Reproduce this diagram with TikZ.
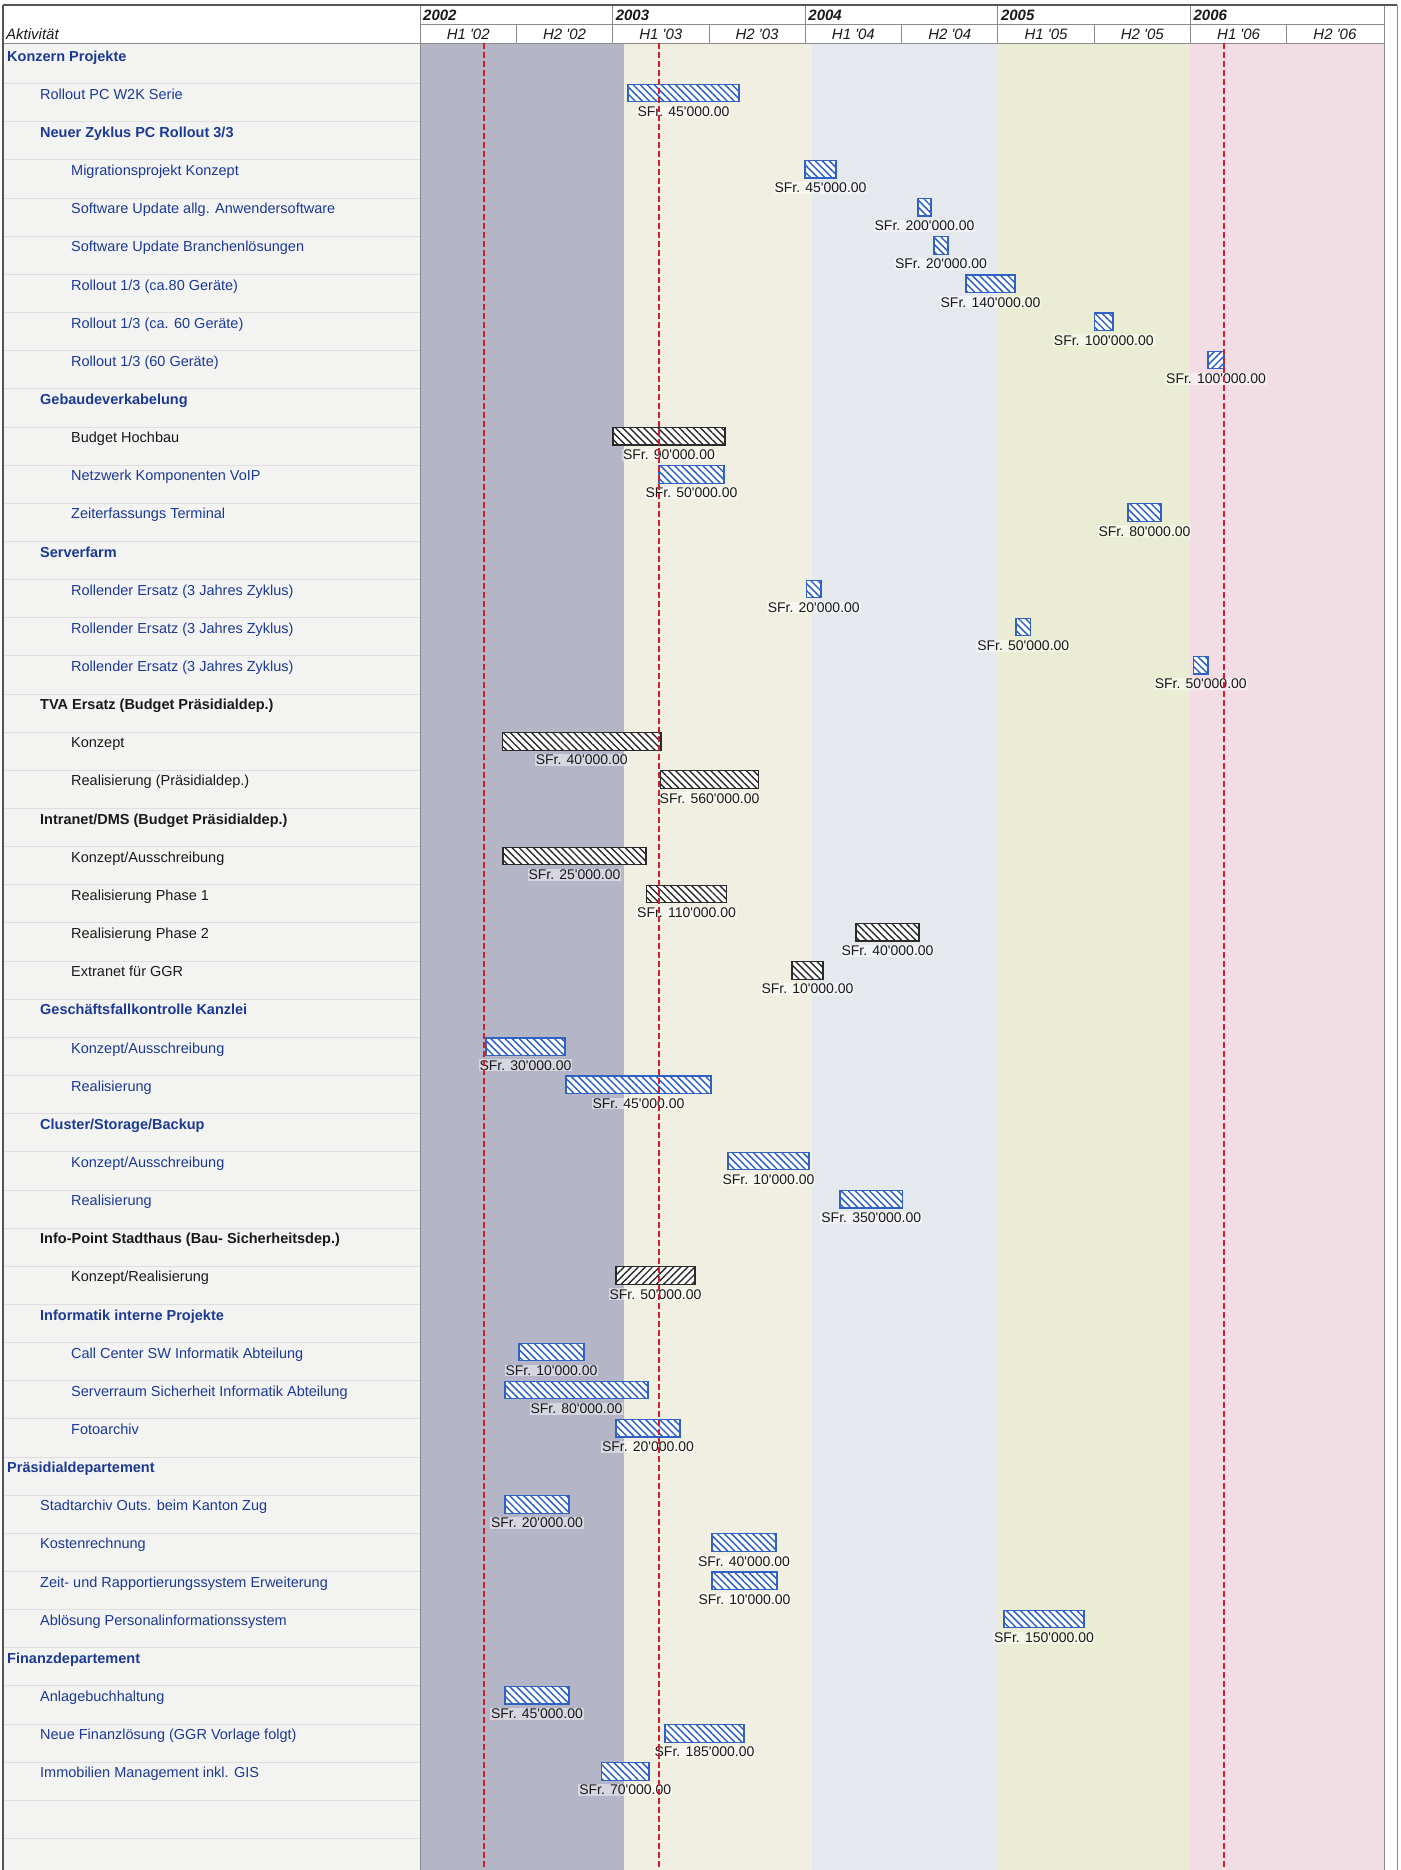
\documentclass[tikz,border=0pt]{standalone}
\usepackage{fontspec}
\setmainfont{Liberation Sans}[Ligatures=TeXOff]
\usetikzlibrary{patterns.meta}
\definecolor{leftbg}{HTML}{F3F3F1}
\definecolor{rowln}{HTML}{DEDEDE}
\definecolor{cA}{HTML}{B4B5C6}
\definecolor{cB}{HTML}{F1EFE2}
\definecolor{cC}{HTML}{E5E9EE}
\definecolor{cD}{HTML}{EAEDD3}
\definecolor{cE}{HTML}{F2DDE5}
\definecolor{txtblue}{HTML}{1C3A94}
\definecolor{txtblack}{HTML}{1A1A1A}
\definecolor{barblue}{HTML}{2F62C4}
\definecolor{barblack}{HTML}{2A2A2A}
\definecolor{redln}{HTML}{D0202E}
\definecolor{frm}{HTML}{555555}
\definecolor{hdl}{HTML}{8A8A8A}
\newcommand{\ganttrow}[4]{\node[#3, anchor=base west] (t#1) at (#2, {45.4+(#1-1)*38.15+15.7}) {#4};}
\newcommand{\ganttbar}[5]{%
  \node[#4, anchor=north west, minimum width={(#3-#2)*1pt}, minimum height=17.5pt] (b#1) at (#2, {45.4+(#1-1)*38.15+0.6}) {};
  \node[lab] (l#1) at ({(#2+#3)/2}, {45.4+(#1-1)*38.15+28}) {SFr. #5};}
\begin{document}
\begin{tikzpicture}[x=1pt,y=-1pt,
  itm/.style={font=\fontsize{14.5}{17}\selectfont, inner sep=0pt},
  gbl/.style={itm, font=\fontsize{14.5}{17}\selectfont\bfseries, text=txtblue},
  gbk/.style={itm, font=\fontsize{14.5}{17}\selectfont\bfseries, text=txtblack},
  nbl/.style={itm, text=txtblue},
  nbk/.style={itm, text=txtblack},
  hdr/.style={font=\fontsize{15}{18}\selectfont\itshape, inner sep=0pt, text=txtblack},
  yr/.style={font=\fontsize{15}{18}\selectfont\bfseries\itshape, inner sep=0pt, text=txtblack},
  lab/.style={font=\fontsize{14}{16}\selectfont, fill=white, fill opacity=0.45, text opacity=1, inner sep=1pt, text=txtblack},
  barbase/.style={rectangle, inner sep=0pt, outer sep=0pt, line width=1.2pt, preaction={fill=white}},
  barb/.style={barbase, draw=barblue, pattern={Lines[angle=-45,distance=5pt,line width=1.5pt]}, pattern color=barblue},
  barf/.style={barbase, draw=barblue, pattern={Lines[angle=45,distance=5pt,line width=1.5pt]}, pattern color=barblue},
  bark/.style={barbase, draw=barblack, pattern={Lines[angle=-45,distance=5pt,line width=1.4pt]}, pattern color=barblack},
  barkf/.style={barbase, draw=barblack, pattern={Lines[angle=45,distance=5pt,line width=1.4pt]}, pattern color=barblack},
  rowline/.style={draw=rowln, line width=0.8pt},
  hline/.style={draw=hdl, line width=0.8pt},
  frame/.style={draw=frm, line width=1.4pt},
  reddash/.style={draw=redln, line width=1.4pt, dash pattern=on 6pt off 3pt}]
\useasboundingbox (0,0) rectangle (1400,1870);
\fill[white] (0,0) rectangle (1400,1870);
% left column and chart backgrounds
\fill[leftbg] (3,43) rectangle (420,1870);
\fill[cA] (420,43) rectangle (624,1870);
\fill[cB] (624,43) rectangle (812,1870);
\fill[cC] (812,43) rectangle (997.8,1870);
\fill[cD] (997.8,43) rectangle (1190.4,1870);
\fill[cE] (1190.4,43) rectangle (1384,1870);
\foreach \k in {2,...,48} \draw[rowline] (4,{45.4+(\k-1)*38.15}) -- (420,{45.4+(\k-1)*38.15});
\draw[hline] (420,43) -- (420,1870);
% header
\fill[white] (3,5) rectangle (1384,43);
\draw[hline] (420,24) -- (1384,24);
\draw[hline] (3,43) -- (1384,43);
\foreach \xx in {420,612.6,805.2,997.8,1190.4} \draw[hline] (\xx,5) -- (\xx,43);
\foreach \xx in {516.3,708.9,901.5,1094.1,1286.7} \draw[hline] (\xx,24) -- (\xx,43);
\draw[hline] (1384,5) -- (1384,1870);
\draw[frame] (3,5) -- (1397,5);
\draw[frame] (3,5) -- (3,1870);
\draw[hline] (1397,5) -- (1397,1870);
\node[hdr, anchor=base west] (akt) at (6,39.5) {Aktivität};
\node[yr, anchor=base west] (y02) at (423,20.3) {2002};
\node[yr, anchor=base west] (y03) at (615.6,20.3) {2003};
\node[yr, anchor=base west] (y04) at (808.2,20.3) {2004};
\node[yr, anchor=base west] (y05) at (1000.8,20.3) {2005};
\node[yr, anchor=base west] (y06) at (1193.4,20.3) {2006};
\node[hdr, anchor=base] (h1) at (468.2,39.5) {H1 '02};
\node[hdr, anchor=base] (h2) at (564.5,39.5) {H2 '02};
\node[hdr, anchor=base] (h3) at (660.8,39.5) {H1 '03};
\node[hdr, anchor=base] (h4) at (757.1,39.5) {H2 '03};
\node[hdr, anchor=base] (h5) at (853.4,39.5) {H1 '04};
\node[hdr, anchor=base] (h6) at (949.7,39.5) {H2 '04};
\node[hdr, anchor=base] (h7) at (1046.0,39.5) {H1 '05};
\node[hdr, anchor=base] (h8) at (1142.3,39.5) {H2 '05};
\node[hdr, anchor=base] (h9) at (1238.6,39.5) {H1 '06};
\node[hdr, anchor=base] (h10) at (1334.9,39.5) {H2 '06};
% activity texts
\ganttrow{1}{7}{gbl}{Konzern Projekte}
\ganttrow{2}{40}{nbl}{Rollout PC W2K Serie}
\ganttrow{3}{40}{gbl}{Neuer Zyklus PC Rollout 3/3}
\ganttrow{4}{71}{nbl}{Migrationsprojekt Konzept}
\ganttrow{5}{71}{nbl}{Software Update allg. Anwendersoftware}
\ganttrow{6}{71}{nbl}{Software Update Branchenlösungen}
\ganttrow{7}{71}{nbl}{Rollout 1/3 (ca.80 Geräte)}
\ganttrow{8}{71}{nbl}{Rollout 1/3 (ca. 60 Geräte)}
\ganttrow{9}{71}{nbl}{Rollout 1/3 (60 Geräte)}
\ganttrow{10}{40}{gbl}{Gebaudeverkabelung}
\ganttrow{11}{71}{nbk}{Budget Hochbau}
\ganttrow{12}{71}{nbl}{Netzwerk Komponenten VoIP}
\ganttrow{13}{71}{nbl}{Zeiterfassungs Terminal}
\ganttrow{14}{40}{gbl}{Serverfarm}
\ganttrow{15}{71}{nbl}{Rollender Ersatz (3 Jahres Zyklus)}
\ganttrow{16}{71}{nbl}{Rollender Ersatz (3 Jahres Zyklus)}
\ganttrow{17}{71}{nbl}{Rollender Ersatz (3 Jahres Zyklus)}
\ganttrow{18}{40}{gbk}{TVA Ersatz (Budget Präsidialdep.)}
\ganttrow{19}{71}{nbk}{Konzept}
\ganttrow{20}{71}{nbk}{Realisierung (Präsidialdep.)}
\ganttrow{21}{40}{gbk}{Intranet/DMS (Budget Präsidialdep.)}
\ganttrow{22}{71}{nbk}{Konzept/Ausschreibung}
\ganttrow{23}{71}{nbk}{Realisierung Phase 1}
\ganttrow{24}{71}{nbk}{Realisierung Phase 2}
\ganttrow{25}{71}{nbk}{Extranet für GGR}
\ganttrow{26}{40}{gbl}{Geschäftsfallkontrolle Kanzlei}
\ganttrow{27}{71}{nbl}{Konzept/Ausschreibung}
\ganttrow{28}{71}{nbl}{Realisierung}
\ganttrow{29}{40}{gbl}{Cluster/Storage/Backup}
\ganttrow{30}{71}{nbl}{Konzept/Ausschreibung}
\ganttrow{31}{71}{nbl}{Realisierung}
\ganttrow{32}{40}{gbk}{Info-Point Stadthaus (Bau- Sicherheitsdep.)}
\ganttrow{33}{71}{nbk}{Konzept/Realisierung}
\ganttrow{34}{40}{gbl}{Informatik interne Projekte}
\ganttrow{35}{71}{nbl}{Call Center SW Informatik Abteilung}
\ganttrow{36}{71}{nbl}{Serverraum Sicherheit Informatik Abteilung}
\ganttrow{37}{71}{nbl}{Fotoarchiv}
\ganttrow{38}{7}{gbl}{Präsidialdepartement}
\ganttrow{39}{40}{nbl}{Stadtarchiv Outs. beim Kanton Zug}
\ganttrow{40}{40}{nbl}{Kostenrechnung}
\ganttrow{41}{40}{nbl}{Zeit- und Rapportierungssystem Erweiterung}
\ganttrow{42}{40}{nbl}{Ablösung Personalinformationssystem}
\ganttrow{43}{7}{gbl}{Finanzdepartement}
\ganttrow{44}{40}{nbl}{Anlagebuchhaltung}
\ganttrow{45}{40}{nbl}{Neue Finanzlösung (GGR Vorlage folgt)}
\ganttrow{46}{40}{nbl}{Immobilien Management inkl. GIS}
% bars
\ganttbar{2}{628}{739}{barb}{45'000.00}
\ganttbar{4}{805}{836}{barb}{45'000.00}
\ganttbar{5}{918}{931}{barb}{200'000.00}
\ganttbar{6}{934}{948}{barb}{20'000.00}
\ganttbar{7}{966}{1015}{barb}{140'000.00}
\ganttbar{8}{1094.5}{1113}{barb}{100'000.00}
\ganttbar{9}{1208}{1224}{barf}{100'000.00}
\ganttbar{11}{613}{725}{bark}{90'000.00}
\ganttbar{12}{659}{724}{barb}{50'000.00}
\ganttbar{13}{1128}{1161}{barb}{80'000.00}
\ganttbar{15}{806.5}{821}{barb}{20'000.00}
\ganttbar{16}{1016}{1030.5}{barb}{50'000.00}
\ganttbar{17}{1193.5}{1208}{barb}{50'000.00}
\ganttbar{19}{502.5}{661}{bark}{40'000.00}
\ganttbar{20}{660.6}{758.5}{bark}{560'000.00}
\ganttbar{22}{503}{646}{bark}{25'000.00}
\ganttbar{23}{646.5}{726.5}{bark}{110'000.00}
\ganttbar{24}{856}{919}{bark}{40'000.00}
\ganttbar{25}{792}{823}{bark}{10'000.00}
\ganttbar{27}{486}{565}{barb}{30'000.00}
\ganttbar{28}{566}{711}{barb}{45'000.00}
\ganttbar{30}{728}{809}{barb}{10'000.00}
\ganttbar{31}{840}{902.5}{barb}{350'000.00}
\ganttbar{33}{616}{695}{barkf}{50'000.00}
\ganttbar{35}{519}{584}{barb}{10'000.00}
\ganttbar{36}{505}{648}{barb}{80'000.00}
\ganttbar{37}{616}{680}{barb}{20'000.00}
\ganttbar{39}{505}{569}{barb}{20'000.00}
\ganttbar{40}{712}{776}{barb}{40'000.00}
\ganttbar{41}{712}{777}{barb}{10'000.00}
\ganttbar{42}{1004}{1084}{barb}{150'000.00}
\ganttbar{44}{505}{569}{barb}{45'000.00}
\ganttbar{45}{665}{744}{barb}{185'000.00}
\ganttbar{46}{601.5}{649}{barb}{70'000.00}
% red dashed markers
\draw[reddash] (484,43) -- (484,1870);
\draw[reddash] (659,43) -- (659,1870);
\draw[reddash] (1224,43) -- (1224,1870);
\end{tikzpicture}
\end{document}
